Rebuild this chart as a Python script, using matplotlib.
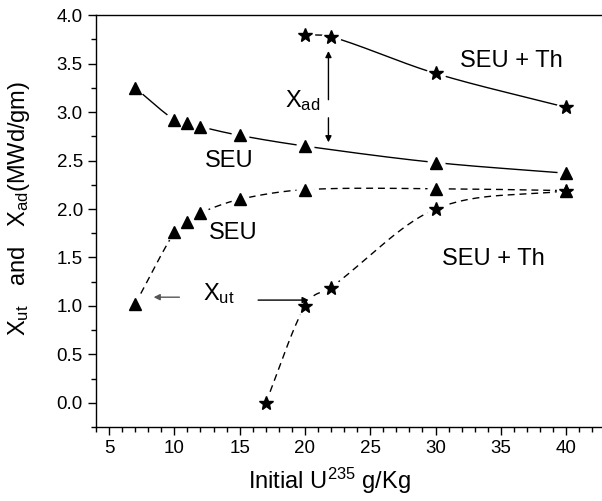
import numpy as np
import matplotlib
matplotlib.use("Agg")
import matplotlib.pyplot as plt

plt.rcParams['font.family'] = ['Liberation Sans', 'DejaVu Sans']
plt.rcParams['mathtext.fontset'] = 'custom'
plt.rcParams['mathtext.rm'] = 'Liberation Sans'
plt.rcParams['mathtext.it'] = 'Liberation Sans'

# X_ad, SEU (triangles, solid)
seu_ad_x = [7, 10, 11, 12, 15, 20, 30, 40]
seu_ad_y = [3.25, 2.92, 2.89, 2.85, 2.76, 2.65, 2.48, 2.37]

# X_ad, SEU + Th (stars, solid)
th_ad_x = [20, 22, 30, 40]
th_ad_y = [3.80, 3.78, 3.40, 3.05]

# X_ut, SEU (triangles, dashed)
seu_ut_x = [7, 10, 11, 12, 15, 20, 30, 40]
seu_ut_y = [1.02, 1.76, 1.87, 1.96, 2.10, 2.20, 2.21, 2.19]

# X_ut, SEU + Th (stars, dashed)
th_ut_x = [17, 20, 22, 30, 40]
th_ut_y = [0.0, 1.0, 1.19, 2.0, 2.19]


def smooth(x, y, n=300):
    # cardinal (Catmull-Rom style) cubic through the points, for the drawn line
    x = np.asarray(x, float)
    y = np.asarray(y, float)
    h = np.diff(x)
    m = np.empty_like(y)
    m[1:-1] = (y[2:] - y[:-2]) / (x[2:] - x[:-2])
    m[0] = (y[1] - y[0]) / h[0]
    m[-1] = (y[-1] - y[-2]) / h[-1]
    xs = np.linspace(x[0], x[-1], n)
    idx = np.clip(np.searchsorted(x, xs) - 1, 0, len(x) - 2)
    t = (xs - x[idx]) / h[idx]
    h00 = 2 * t**3 - 3 * t**2 + 1
    h10 = t**3 - 2 * t**2 + t
    h01 = -2 * t**3 + 3 * t**2
    h11 = t**3 - t**2
    ys = h00 * y[idx] + h10 * h[idx] * m[idx] + h01 * y[idx + 1] + h11 * h[idx] * m[idx + 1]
    return xs, ys


fig = plt.figure(figsize=(6.02, 5.01), dpi=100)
ax = fig.add_axes([0.1595, 0.1477, 0.8405, 0.8218])

dash = (0, (5, 3.5))
series = [
    (seu_ad_x, seu_ad_y, '^', 9, '-'),
    (th_ad_x, th_ad_y, '*', 10, '-'),
    (seu_ut_x, seu_ut_y, '^', 9, dash),
    (th_ut_x, th_ut_y, '*', 10, dash),
]
for x, y, mk, ms, ls in series:
    xs, ys = smooth(x, y)
    ax.plot(xs, ys, color='black', lw=1.0, linestyle=ls, zorder=2)
    # white halo to give the gap round each marker
    ax.plot(x, y, linestyle='none', marker='o', ms=ms + 3, color='white', zorder=3)
    ax.plot(x, y, linestyle='none', marker=mk, ms=ms, color='black', zorder=4)

# labels
ax.text(14.2, 2.50, 'SEU', fontsize=17, ha='center', va='center')
ax.text(14.5, 1.75, 'SEU', fontsize=17, ha='center', va='center')
ax.text(35.8, 3.53, 'SEU + Th', fontsize=17, ha='center', va='center')
ax.text(34.4, 1.48, 'SEU + Th', fontsize=17, ha='center', va='center')

ax.text(19.8, 3.12, r'$\mathregular{X_{ad}}$', fontsize=17, ha='center', va='center')
ax.annotate('', xy=(21.8, 3.66), xytext=(21.8, 3.10),
            arrowprops=dict(arrowstyle='-|>', color='black', lw=1, mutation_scale=9))
ax.annotate('', xy=(21.8, 2.66), xytext=(21.8, 2.97),
            arrowprops=dict(arrowstyle='-|>', color='black', lw=1, mutation_scale=9))

ax.text(13.4, 1.13, r'$\mathregular{X_{ut}}$', fontsize=17, ha='center', va='center')
ax.annotate('', xy=(8.2, 1.09), xytext=(10.6, 1.09),
            arrowprops=dict(arrowstyle='-|>', color='#555555', lw=1, mutation_scale=9))
ax.annotate('', xy=(20.5, 1.06), xytext=(16.2, 1.06),
            arrowprops=dict(arrowstyle='-|>', color='black', lw=1, mutation_scale=9))

ax.set_xlim(4, 42.75)
ax.set_ylim(-0.25, 4.0)
ax.set_xticks(range(5, 41, 5))
ax.set_xticks(range(4, 43), minor=True)
ax.set_yticks(np.arange(0, 4.01, 0.5))
ax.set_yticks(np.arange(-0.25, 4.01, 0.25), minor=True)
ax.set_yticklabels([f'{v:.1f}' for v in np.arange(0, 4.01, 0.5)])
ax.tick_params(which='major', direction='out', length=6, width=1, labelsize=13.5)
ax.tick_params(which='minor', direction='out', length=3.5, width=1)
ax.spines['right'].set_visible(False)
for s in ['left', 'bottom', 'top']:
    ax.spines[s].set_linewidth(1)

ax.set_xlabel(r'Initial U$^{\mathregular{235}}$ g/Kg', fontsize=17)
ax.xaxis.set_label_coords(0.461, -0.095)
ax.set_ylabel(r'$\mathregular{X_{ut}}$   and   $\mathregular{X_{ad}}$(MWd/gm)', fontsize=17)
ax.yaxis.set_label_coords(-0.127, 0.531)

plt.savefig('out.png', dpi=100)
plt.close()
